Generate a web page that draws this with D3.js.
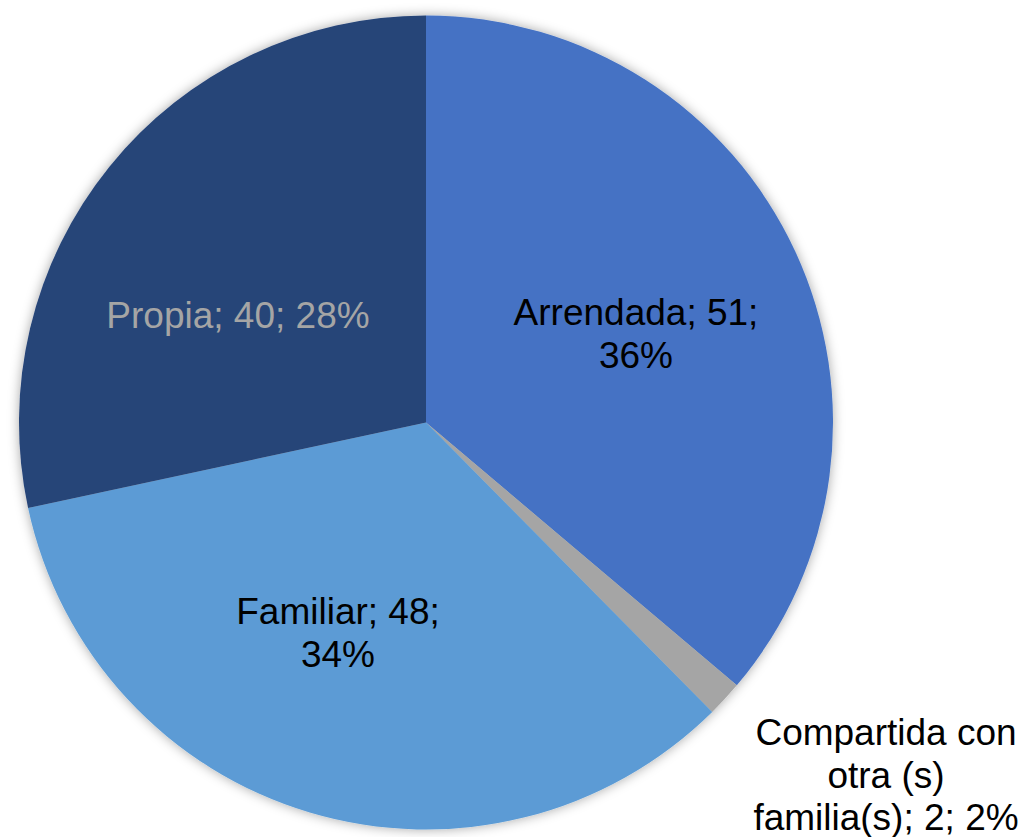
<!DOCTYPE html>
<html>
<head>
<meta charset="utf-8">
<script src="https://cdn.jsdelivr.net/npm/d3@7"></script>
<style>
html,body{margin:0;padding:0;background:#fff;}
svg{display:block;}
</style>
</head>
<body>
<svg id="chart" width="1024" height="837"></svg>
<script>
const categories = ["Arrendada", "Compartida con otra (s) familia(s)", "Familiar", "Propia"];
const values = [51, 2, 48, 40];
const percents = ["36%", "2%", "34%", "28%"];
const colors = ["#4472C4", "#A5A5A5", "#5B9BD5", "#264478"];
const labelColors = ["#000000", "#000000", "#000000", "#A5A5A5"];
const labelLines = [
  ["Arrendada; 51;", "36%"],
  ["Compartida con", "otra (s)", "familia(s); 2; 2%"],
  ["Familiar; 48;", "34%"],
  ["Propia; 40; 28%"]
];
const labelPos = [[636, 325], [886, 745], [338, 624], [238, 328]];

const svg = d3.select("#chart");
const cx = 426, cy = 422.5, r = 407;

const defs = svg.append("defs");
const f = defs.append("filter").attr("id", "shadow").attr("x", "-10%").attr("y", "-10%").attr("width", "120%").attr("height", "120%");
f.append("feDropShadow").attr("dx", 0).attr("dy", 0).attr("stdDeviation", 6).attr("flood-color", "#000").attr("flood-opacity", 0.35);

const data = categories.map((c, i) => ({cat: c, value: values[i], i}));
const pie = d3.pie().sort(null).value(d => d.value);
const arc = d3.arc().innerRadius(0).outerRadius(r);

const g = svg.append("g").attr("transform", `translate(${cx},${cy})`);
const slices = g.append("g").attr("filter", "url(#shadow)");
slices.selectAll("path").data(pie(data)).join("path")
  .attr("d", arc)
  .attr("fill", d => colors[d.data.i]);

const lg = svg.append("g").attr("font-family", "Liberation Sans, Arial, sans-serif").attr("font-size", 37);
data.forEach((d, i) => {
  const t = lg.append("text").attr("text-anchor", "middle").attr("fill", labelColors[i]);
  labelLines[i].forEach((line, k) => {
    t.append("tspan").attr("x", labelPos[i][0]).attr("y", labelPos[i][1] + k * 42.5).text(line);
  });
});
</script>
</body>
</html>
